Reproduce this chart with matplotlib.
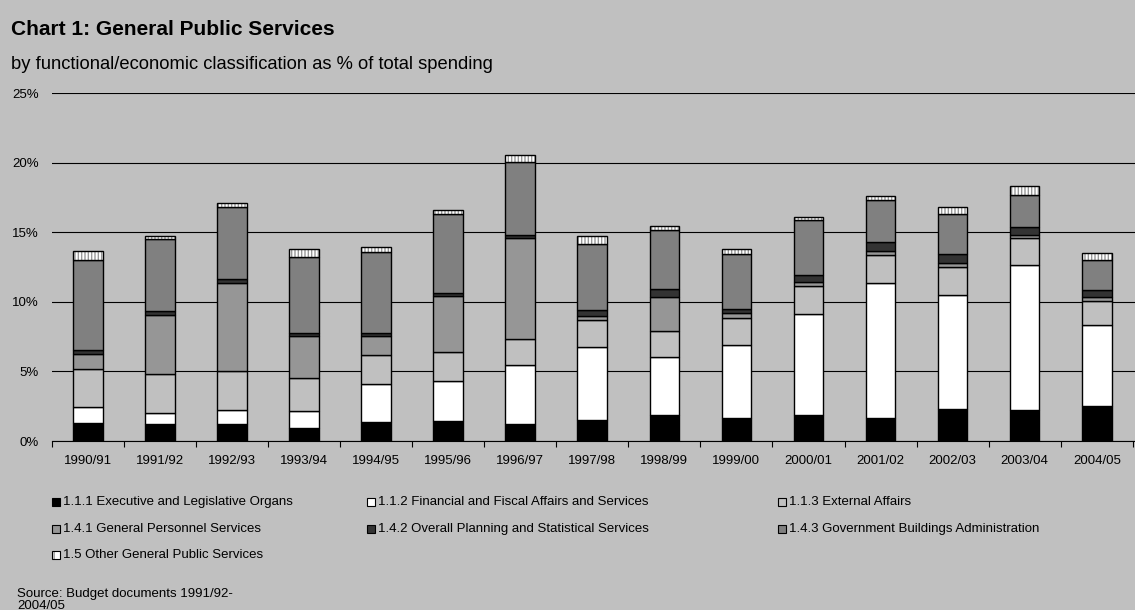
import numpy as np
import matplotlib.pyplot as plt
from matplotlib.patches import Rectangle

plt.rcParams['font.family'] = ['Liberation Sans', 'DejaVu Sans']
plt.rcParams['hatch.linewidth'] = 1.0

years = ['1990/91', '1991/92', '1992/93', '1993/94', '1994/95', '1995/96', '1996/97',
         '1997/98', '1998/99', '1999/00', '2000/01', '2001/02', '2002/03', '2003/04', '2004/05']

series_names = ['1.1.1 Executive and Legislative Organs',
                '1.1.2 Financial and Fiscal Affairs and Services',
                '1.1.3 External Affairs',
                '1.4.1 General Personnel Services',
                '1.4.2 Overall Planning and Statistical Services',
                '1.4.3 Government Buildings Administration',
                '1.5 Other General Public Services']

# % of total spending, per year
exec_legis = [1.33, 1.21, 1.19, 0.95, 1.38, 1.45, 1.21, 1.50, 1.90, 1.69, 1.86, 1.67, 2.29, 2.21, 2.50]
fin_fiscal = [1.12, 0.81, 1.02, 1.19, 2.69, 2.86, 4.27, 5.29, 4.17, 5.21, 7.26, 9.71, 8.21, 10.43, 5.83]
external = [2.74, 2.81, 2.81, 2.38, 2.14, 2.12, 1.85, 1.90, 1.86, 1.93, 2.02, 1.98, 2.02, 1.91, 1.74]
personnel = [1.07, 4.22, 6.36, 3.00, 1.31, 4.00, 7.22, 0.31, 2.45, 0.34, 0.29, 0.28, 0.29, 0.24, 0.29]
planning = [0.27, 0.28, 0.29, 0.22, 0.27, 0.24, 0.24, 0.40, 0.52, 0.31, 0.50, 0.67, 0.59, 0.57, 0.50]
buildings = [6.50, 5.15, 5.12, 5.50, 5.81, 5.66, 5.23, 4.79, 4.29, 3.92, 3.93, 3.02, 2.93, 2.33, 2.12]
other = [0.60, 0.23, 0.31, 0.52, 0.33, 0.29, 0.53, 0.52, 0.29, 0.41, 0.24, 0.24, 0.48, 0.60, 0.54]

series = [exec_legis, fin_fiscal, external, personnel, planning, buildings, other]
fills = ['#000000', '#ffffff', '#c0c0c0', '#969696', '#333333', '#808080', '#ffffff']

bg = '#c0c0c0'
fig = plt.figure(figsize=(11.35, 6.1), dpi=100, facecolor=bg)
ax = fig.add_axes([51.7 / 1135, 0.277, 1 - 51.7 / 1135, 0.5705])
ax.set_facecolor(bg)

x = np.arange(len(years))
width = 0.41
bottom = np.zeros(len(years))
for vals, col, name in zip(series, fills, series_names):
    vals = np.array(vals)
    if name.startswith('1.5'):
        # striped segment: grey hatch first, black outline on top
        ax.bar(x, vals, width, bottom=bottom, color='white', edgecolor='#999999',
               hatch='|||||', linewidth=0, zorder=3)
        ax.bar(x, vals, width, bottom=bottom, fill=False, edgecolor='black',
               linewidth=1.0, zorder=4)
    else:
        ax.bar(x, vals, width, bottom=bottom, color=col, edgecolor='black',
               linewidth=1.0, zorder=3)
    bottom += vals

ax.set_xlim(-0.5, 14.53)
ax.set_ylim(0, 25)
ax.set_yticks(np.arange(0, 26, 5))
ax.set_yticklabels([f'{v}%' for v in range(0, 26, 5)], fontsize=9.5)
ax.yaxis.grid(True, color='black', linewidth=0.8, zorder=0)
ax.set_axisbelow(True)
ax.tick_params(axis='y', length=0, pad=9.5)

ax.set_xticks(x)
ax.set_xticklabels(years, fontsize=9.5)
ax.set_xticks(np.arange(-0.5, 15, 1), minor=True)
ax.tick_params(axis='x', which='major', length=0, pad=10)
ax.tick_params(axis='x', which='minor', length=4, width=0.8, color='black')

for s in ['top', 'right', 'left']:
    ax.spines[s].set_visible(False)
ax.spines['bottom'].set_color('black')
ax.spines['bottom'].set_linewidth(0.8)

fig.text(11 / 1135, 1 - 35 / 610, 'Chart 1: General Public Services',
         fontsize=15, fontweight='bold', va='baseline', ha='left')
fig.text(11 / 1135, 1 - 69 / 610,
         'by functional/economic classification as % of total spending',
         fontsize=13.2, va='baseline', ha='left')

# legend laid out in three columns under the plot
col_x = [52, 367, 778]
row_y = [502, 529, 555]
for i, (name, col) in enumerate(zip(series_names, fills)):
    cx = col_x[i % 3]
    cy = row_y[i // 3]
    w, h = 8 / 1135, 8 / 610
    rx, ry = cx / 1135, 1 - cy / 610 - h / 2
    if name.startswith('1.5'):
        fig.patches.append(Rectangle((rx, ry), w, h, transform=fig.transFigure,
                                     facecolor='white', edgecolor='#999999',
                                     hatch='||', linewidth=0))
        fig.patches.append(Rectangle((rx, ry), w, h, transform=fig.transFigure,
                                     fill=False, edgecolor='black', linewidth=0.8))
    else:
        fig.patches.append(Rectangle((rx, ry), w, h, transform=fig.transFigure,
                                     facecolor=col, edgecolor='black', linewidth=0.8))
    fig.text((cx + 11) / 1135, 1 - cy / 610, name, fontsize=9.5, va='center', ha='left')

fig.text(17 / 1135, 1 - 598 / 610, 'Source: Budget documents 1991/92-\n2004/05',
         fontsize=9.5, va='center_baseline', ha='left', linespacing=1.05)

fig.savefig('out.png', dpi=100, facecolor=bg)
